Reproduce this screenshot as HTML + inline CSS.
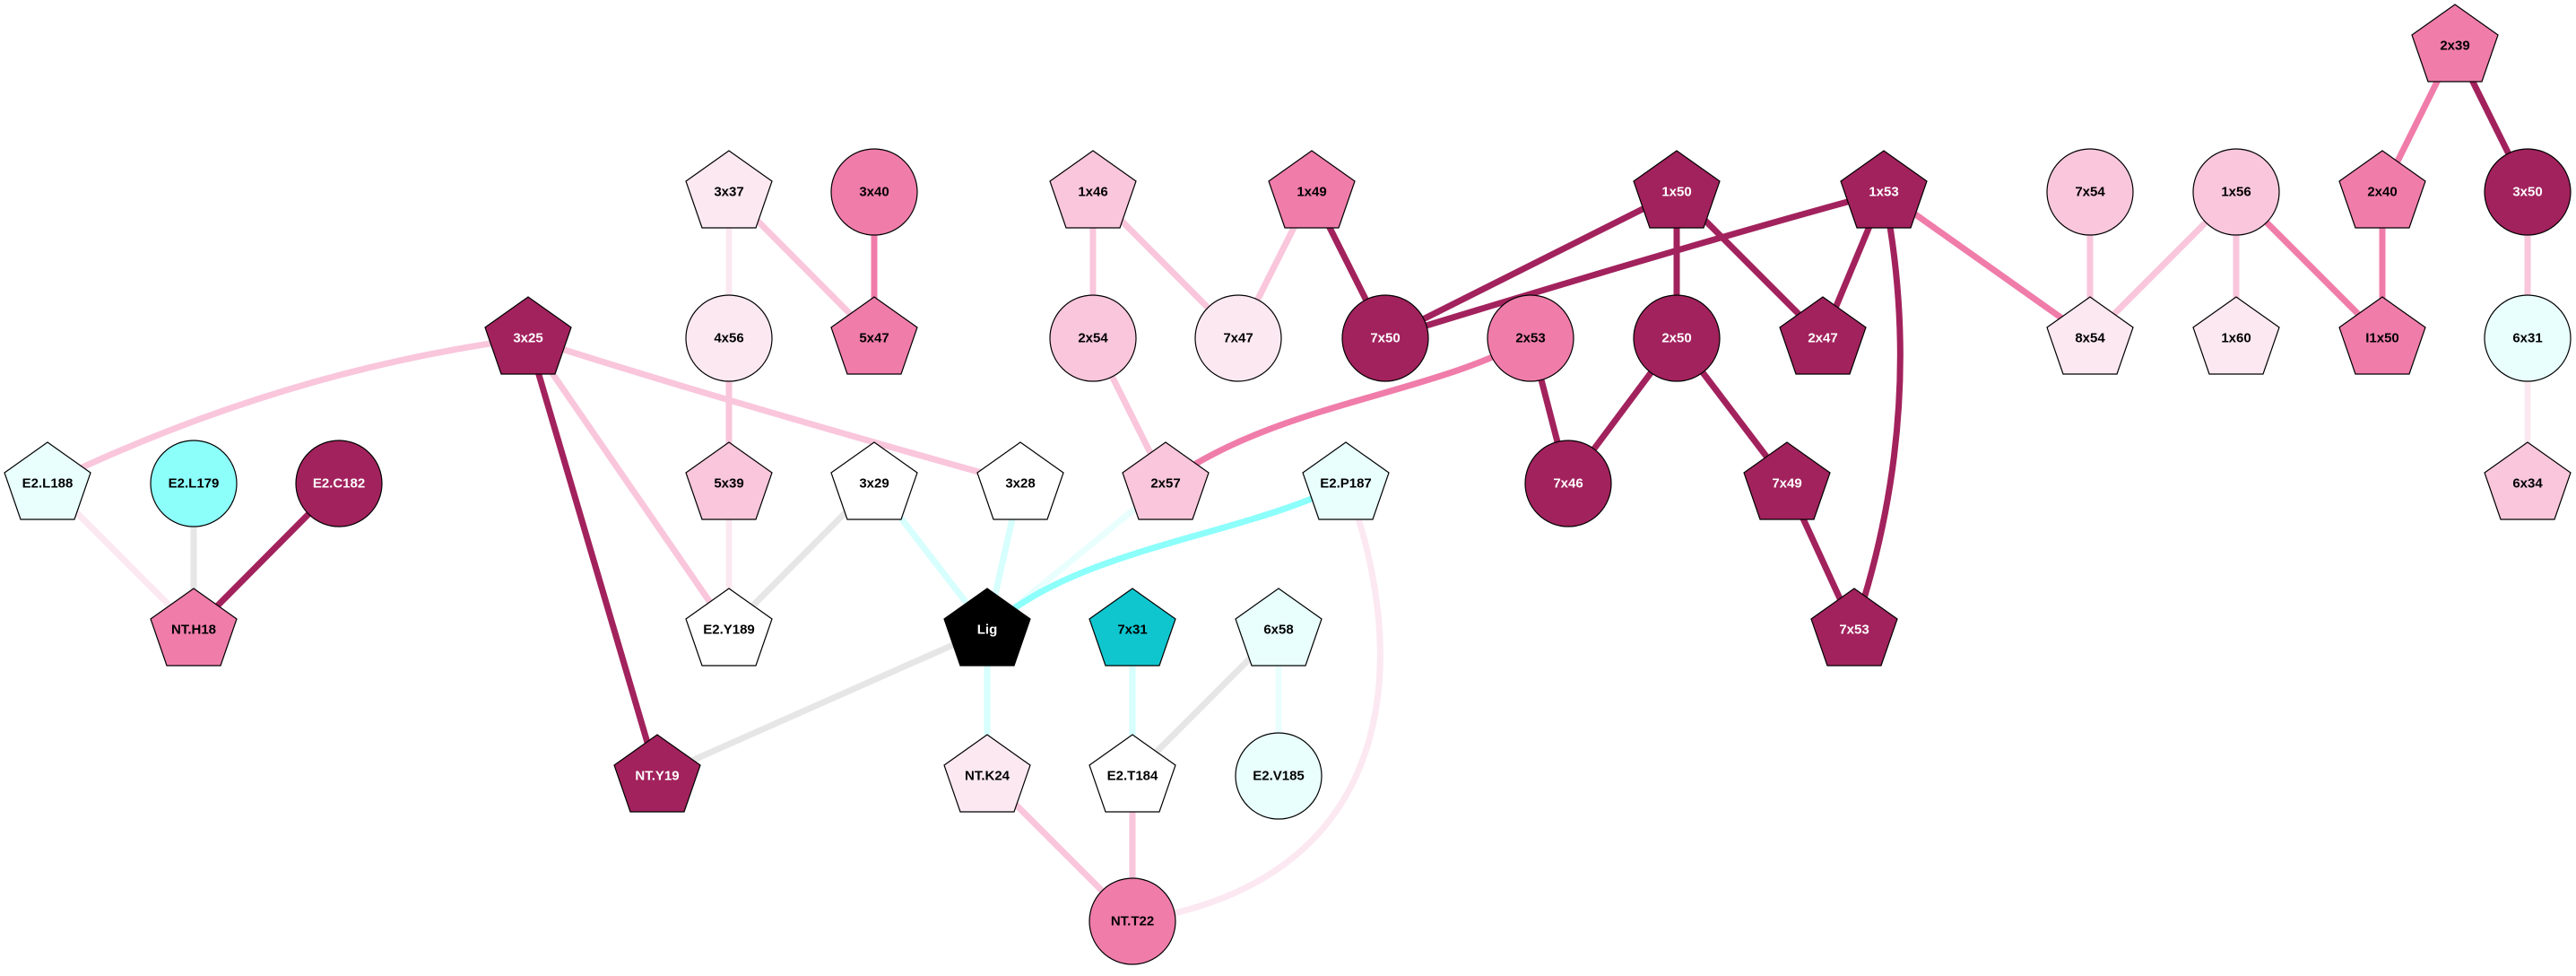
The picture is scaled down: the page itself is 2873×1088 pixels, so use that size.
<!DOCTYPE html>
<html><head><meta charset="utf-8"><style>
html,body{margin:0;padding:0;background:#fff;}
svg text{font-family:"Liberation Sans",Arial,sans-serif;font-weight:bold;font-size:15px;text-anchor:middle;dominant-baseline:central;}
</style></head><body>
<svg width="2873" height="1083" viewBox="0 0 2873 1083" xmlns="http://www.w3.org/2000/svg">
<defs>
<polygon id="pent" points="0,-46 48,-12 30,40 -30,40 -48,-12" stroke="#000" stroke-width="1.2"/>
</defs>
<g fill="none" stroke-width="7" stroke-linecap="butt">
<path d="M589,377 Q317,412 53,539" stroke="#f9c6db"/>
<path d="M589,377 Q783,440 1138,539" stroke="#f9c6db"/>
<line x1="589" y1="377" x2="813" y2="702" stroke="#f9c6db"/>
<line x1="589" y1="377" x2="733" y2="865" stroke="#a2225d"/>
<line x1="53" y1="539" x2="216" y2="702" stroke="#fce8f1"/>
<line x1="216" y1="539" x2="216" y2="702" stroke="#e6e6e6"/>
<line x1="378" y1="539" x2="216" y2="702" stroke="#a2225d"/>
<line x1="813" y1="214" x2="813" y2="377" stroke="#fce8f1"/>
<line x1="813" y1="214" x2="975" y2="377" stroke="#f9c6db"/>
<line x1="975" y1="214" x2="975" y2="377" stroke="#f07caa"/>
<line x1="813" y1="377" x2="813" y2="539" stroke="#f9c6db"/>
<line x1="813" y1="539" x2="813" y2="702" stroke="#fce8f1"/>
<line x1="975" y1="539" x2="813" y2="702" stroke="#e6e6e6"/>
<line x1="975" y1="539" x2="1101" y2="702" stroke="#d6fffd"/>
<line x1="1138" y1="539" x2="1101" y2="702" stroke="#d6fffd"/>
<line x1="1300" y1="539" x2="1101" y2="702" stroke="#e8fffe"/>
<path d="M1501,539 C1380,600 1200,610 1101,702" stroke="#8cfffb"/>
<line x1="1101" y1="702" x2="733" y2="865" stroke="#e6e6e6"/>
<line x1="1101" y1="702" x2="1101" y2="865" stroke="#d6fffd"/>
<line x1="1101" y1="865" x2="1263" y2="1027" stroke="#f9c6db"/>
<line x1="1263" y1="865" x2="1263" y2="1027" stroke="#f9c6db"/>
<line x1="1263" y1="702" x2="1263" y2="865" stroke="#d6fffd"/>
<line x1="1426" y1="702" x2="1263" y2="865" stroke="#e6e6e6"/>
<line x1="1426" y1="702" x2="1426" y2="865" stroke="#e8fffe"/>
<path d="M1501,539 C1565,700 1585,980 1263,1027" stroke="#fce8f1"/>
<line x1="1219" y1="214" x2="1219" y2="377" stroke="#f9c6db"/>
<line x1="1219" y1="214" x2="1381" y2="377" stroke="#f9c6db"/>
<line x1="1463" y1="214" x2="1381" y2="377" stroke="#f9c6db"/>
<line x1="1463" y1="214" x2="1545" y2="377" stroke="#a2225d"/>
<line x1="1219" y1="377" x2="1300" y2="539" stroke="#f9c6db"/>
<path d="M1707,377 C1600,440 1420,450 1300,539" stroke="#f07caa"/>
<line x1="1707" y1="377" x2="1749" y2="539" stroke="#a2225d"/>
<line x1="1870" y1="377" x2="1749" y2="539" stroke="#a2225d"/>
<line x1="1870" y1="377" x2="1993" y2="539" stroke="#a2225d"/>
<line x1="1870" y1="214" x2="1870" y2="377" stroke="#a2225d"/>
<line x1="1870" y1="214" x2="1545" y2="377" stroke="#a2225d"/>
<path d="M2101,214 Q1900,268 1545,377" stroke="#a2225d"/>
<line x1="1870" y1="214" x2="2033" y2="377" stroke="#a2225d"/>
<line x1="2101" y1="214" x2="2033" y2="377" stroke="#a2225d"/>
<path d="M2101,214 Q2150,458 2068,702" stroke="#a2225d"/>
<line x1="1993" y1="539" x2="2068" y2="702" stroke="#a2225d"/>
<line x1="2101" y1="214" x2="2331" y2="377" stroke="#f07caa"/>
<line x1="2331" y1="214" x2="2331" y2="377" stroke="#f9c6db"/>
<line x1="2494" y1="214" x2="2331" y2="377" stroke="#f9c6db"/>
<line x1="2494" y1="214" x2="2494" y2="377" stroke="#f9c6db"/>
<line x1="2494" y1="214" x2="2657" y2="377" stroke="#f07caa"/>
<line x1="2657" y1="214" x2="2657" y2="377" stroke="#f07caa"/>
<line x1="2738" y1="51" x2="2657" y2="214" stroke="#f07caa"/>
<line x1="2738" y1="51" x2="2819" y2="214" stroke="#a2225d"/>
<line x1="2819" y1="214" x2="2819" y2="377" stroke="#f9c6db"/>
<line x1="2819" y1="377" x2="2819" y2="539" stroke="#fce8f1"/>
</g>
<g>
<use href="#pent" x="53" y="539" fill="#e8fffe"/><text x="53" y="539">E2.L188</text>
<circle cx="216" cy="539" r="48" fill="#8cfffb" stroke="#000" stroke-width="1.2"/><text x="216" y="539">E2.L179</text>
<circle cx="378" cy="539" r="48" fill="#a2225d" stroke="#000" stroke-width="1.2"/><text x="378" y="539" fill="#fff">E2.C182</text>
<use href="#pent" x="216" y="702" fill="#f07caa"/><text x="216" y="702">NT.H18</text>
<use href="#pent" x="589" y="377" fill="#a2225d"/><text x="589" y="377" fill="#fff">3x25</text>
<use href="#pent" x="733" y="865" fill="#a2225d"/><text x="733" y="865" fill="#fff">NT.Y19</text>
<use href="#pent" x="813" y="214" fill="#fce8f1"/><text x="813" y="214">3x37</text>
<circle cx="813" cy="377" r="48" fill="#fce8f1" stroke="#000" stroke-width="1.2"/><text x="813" y="377">4x56</text>
<use href="#pent" x="813" y="539" fill="#f9c6db"/><text x="813" y="539">5x39</text>
<use href="#pent" x="813" y="702" fill="#ffffff"/><text x="813" y="702">E2.Y189</text>
<circle cx="975" cy="214" r="48" fill="#f07caa" stroke="#000" stroke-width="1.2"/><text x="975" y="214">3x40</text>
<use href="#pent" x="975" y="377" fill="#f07caa"/><text x="975" y="377">5x47</text>
<use href="#pent" x="975" y="539" fill="#ffffff"/><text x="975" y="539">3x29</text>
<use href="#pent" x="1138" y="539" fill="#ffffff"/><text x="1138" y="539">3x28</text>
<use href="#pent" x="1219" y="214" fill="#f9c6db"/><text x="1219" y="214">1x46</text>
<circle cx="1219" cy="377" r="48" fill="#f9c6db" stroke="#000" stroke-width="1.2"/><text x="1219" y="377">2x54</text>
<use href="#pent" x="1300" y="539" fill="#f9c6db"/><text x="1300" y="539">2x57</text>
<circle cx="1381" cy="377" r="48" fill="#fce8f1" stroke="#000" stroke-width="1.2"/><text x="1381" y="377">7x47</text>
<use href="#pent" x="1463" y="214" fill="#f07caa"/><text x="1463" y="214">1x49</text>
<circle cx="1545" cy="377" r="48" fill="#a2225d" stroke="#000" stroke-width="1.2"/><text x="1545" y="377" fill="#fff">7x50</text>
<use href="#pent" x="1501" y="539" fill="#e8fffe"/><text x="1501" y="539">E2.P187</text>
<use href="#pent" x="1101" y="702" fill="#000000"/><text x="1101" y="702" fill="#fff">Lig</text>
<use href="#pent" x="1263" y="702" fill="#0fc6cf"/><text x="1263" y="702">7x31</text>
<use href="#pent" x="1426" y="702" fill="#e8fffe"/><text x="1426" y="702">6x58</text>
<use href="#pent" x="1101" y="865" fill="#fce8f1"/><text x="1101" y="865">NT.K24</text>
<use href="#pent" x="1263" y="865" fill="#ffffff"/><text x="1263" y="865">E2.T184</text>
<circle cx="1426" cy="865" r="48" fill="#e8fffe" stroke="#000" stroke-width="1.2"/><text x="1426" y="865">E2.V185</text>
<circle cx="1263" cy="1027" r="48" fill="#f07caa" stroke="#000" stroke-width="1.2"/><text x="1263" y="1027">NT.T22</text>
<circle cx="1707" cy="377" r="48" fill="#f07caa" stroke="#000" stroke-width="1.2"/><text x="1707" y="377">2x53</text>
<circle cx="1749" cy="539" r="48" fill="#a2225d" stroke="#000" stroke-width="1.2"/><text x="1749" y="539" fill="#fff">7x46</text>
<use href="#pent" x="1870" y="214" fill="#a2225d"/><text x="1870" y="214" fill="#fff">1x50</text>
<circle cx="1870" cy="377" r="48" fill="#a2225d" stroke="#000" stroke-width="1.2"/><text x="1870" y="377" fill="#fff">2x50</text>
<use href="#pent" x="2033" y="377" fill="#a2225d"/><text x="2033" y="377" fill="#fff">2x47</text>
<use href="#pent" x="2101" y="214" fill="#a2225d"/><text x="2101" y="214" fill="#fff">1x53</text>
<use href="#pent" x="1993" y="539" fill="#a2225d"/><text x="1993" y="539" fill="#fff">7x49</text>
<use href="#pent" x="2068" y="702" fill="#a2225d"/><text x="2068" y="702" fill="#fff">7x53</text>
<circle cx="2331" cy="214" r="48" fill="#f9c6db" stroke="#000" stroke-width="1.2"/><text x="2331" y="214">7x54</text>
<use href="#pent" x="2331" y="377" fill="#fce8f1"/><text x="2331" y="377">8x54</text>
<circle cx="2494" cy="214" r="48" fill="#f9c6db" stroke="#000" stroke-width="1.2"/><text x="2494" y="214">1x56</text>
<use href="#pent" x="2494" y="377" fill="#fce8f1"/><text x="2494" y="377">1x60</text>
<use href="#pent" x="2657" y="214" fill="#f07caa"/><text x="2657" y="214">2x40</text>
<use href="#pent" x="2657" y="377" fill="#f07caa"/><text x="2657" y="377">I1x50</text>
<use href="#pent" x="2738" y="51" fill="#f07caa"/><text x="2738" y="51">2x39</text>
<circle cx="2819" cy="214" r="48" fill="#a2225d" stroke="#000" stroke-width="1.2"/><text x="2819" y="214" fill="#fff">3x50</text>
<circle cx="2819" cy="377" r="48" fill="#e8fffe" stroke="#000" stroke-width="1.2"/><text x="2819" y="377">6x31</text>
<use href="#pent" x="2819" y="539" fill="#f9c6db"/><text x="2819" y="539">6x34</text>
</g>
</svg>
</body></html>
